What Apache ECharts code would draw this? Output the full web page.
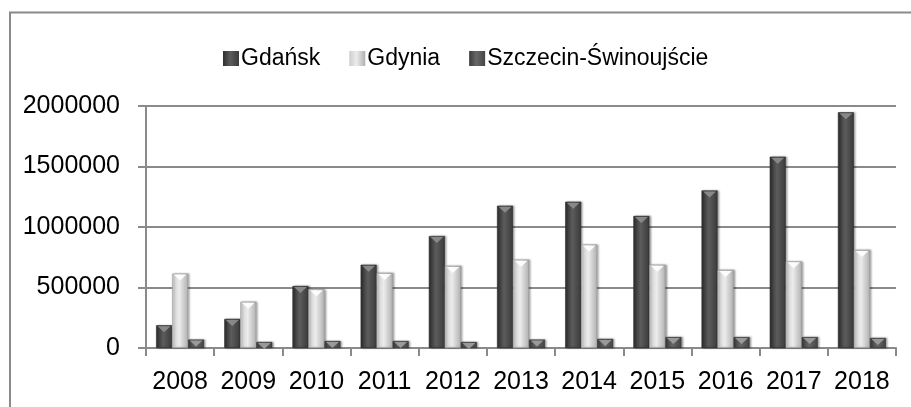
<!DOCTYPE html>
<html><head><meta charset="utf-8">
<script src="https://cdn.jsdelivr.net/npm/echarts@6/dist/echarts.min.js"></script>
<style>html,body{margin:0;padding:0;background:#fff}#c{width:911px;height:407px}</style>
</head><body><div id="c"></div>
<script>
const years = ['2008','2009','2010','2011','2012','2013','2014','2015','2016','2017','2018'];
const seriesNames = ['Gdańsk','Gdynia','Szczecin-Świnoujście'];
const gdansk   = [188000, 240000, 512000, 688000, 925000, 1176000, 1209000, 1091000, 1302000, 1581000, 1948000];
const gdynia   = [615000, 382000, 485000, 620000, 678000, 730000, 855000, 688000, 645000, 716000, 810000];
const szczecin = [70000, 50000, 58000, 58000, 50000, 70000, 75000, 90000, 90000, 90000, 83000];
const yTicks = { min: 0, max: 2000000, interval: 500000 };

const FONT = 'Liberation Sans';
function grad(edgeL, mid, edgeR) {
  return new echarts.graphic.LinearGradient(0, 0, 1, 0, [
    { offset: 0, color: edgeL }, { offset: 0.45, color: mid }, { offset: 1, color: edgeR }
  ]);
}
const styles = [
  { fill: grad('#2f2f2f', '#5c5c5c', '#3a3a3a'), cap: '#8e8e8e', border: '#2a2a2a' },
  { fill: grad('#cdcdcd', '#ececec', '#b0b0b0'), cap: '#ffffff', border: '#9a9a9a' },
  { fill: grad('#3c3c3c', '#686868', '#444444'), cap: '#a0a0a0', border: '#333333' }
];
const datasets = [gdansk, gdynia, szczecin];
const BW = 16;
const series = [];
datasets.forEach((d, i) => {
  series.push({
    type: 'bar', name: seriesNames[i], data: d, barWidth: BW, barGap: '0%',
    itemStyle: { color: styles[i].fill, borderColor: styles[i].border, borderWidth: 0.6,
      shadowColor: 'rgba(0,0,0,0.35)', shadowBlur: 2, shadowOffsetX: 1.5, shadowOffsetY: 0 },
    z: 2, silent: true
  });
});
datasets.forEach((d, i) => {
  series.push({
    type: 'pictorialBar', name: seriesNames[i] + ' cap', data: d, barWidth: BW, barGap: '0%',
    symbol: 'triangle', symbolRotate: 180, symbolPosition: 'end', symbolSize: [BW - 3, 6],
    symbolOffset: [0, 1],
    itemStyle: { color: styles[i].cap, opacity: 0.9 }, z: 3, silent: true
  });
});

const chart = echarts.init(document.getElementById('c'));
chart.setOption({
  animation: false,
  backgroundColor: '#fff',
  textStyle: { fontFamily: FONT },
  legend: {
    data: seriesNames, top: 42, left: 218, itemWidth: 16, itemHeight: 15, itemGap: 29,
    itemStyle: { borderWidth: 0 },
    textStyle: { fontSize: 23, color: '#000', fontFamily: FONT, padding: [0, 0, 0, -3] },
    icon: 'rect', selectedMode: false
  },
  grid: { left: 146, right: 15, top: 106, bottom: 59, containLabel: false },
  xAxis: {
    type: 'category', data: years, boundaryGap: true,
    axisLine: { lineStyle: { color: '#8a8a8a', width: 2 } },
    axisTick: { show: true, length: 8, lineStyle: { color: '#8a8a8a', width: 2 } },
    axisLabel: { fontSize: 25, color: '#000', margin: 22, interval: 0, fontFamily: FONT }
  },
  yAxis: {
    type: 'value', min: yTicks.min, max: yTicks.max, interval: yTicks.interval,
    axisLine: { show: true, lineStyle: { color: '#8a8a8a', width: 2 } },
    axisTick: { show: true, length: 8, lineStyle: { color: '#8a8a8a', width: 2 } },
    splitLine: { lineStyle: { color: '#8a8a8a', width: 2 } },
    axisLabel: { fontSize: 25, color: '#000', margin: 26, fontFamily: FONT,
      formatter: v => String(v) }
  },
  graphic: [{
    type: 'rect', silent: true, z: -1,
    shape: { x: 10, y: 12.5, width: 1200, height: 600 },
    style: { fill: 'none', stroke: '#8a8a8a', lineWidth: 2 }
  }],
  series: series
});
</script>
</body></html>
